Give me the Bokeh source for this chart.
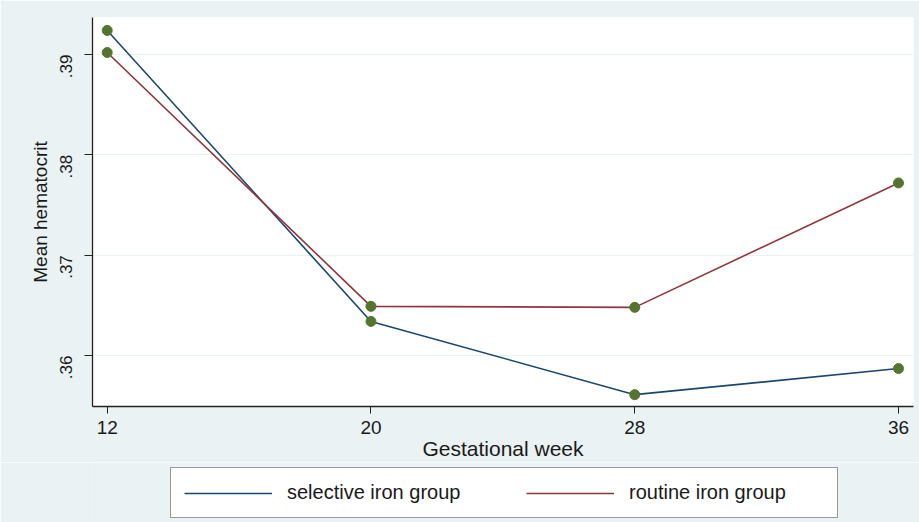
import math
from bokeh.plotting import figure
from bokeh.models import Legend, LegendItem, FixedTicker, Range1d
from bokeh.layouts import column
from bokeh.embed import file_html
from bokeh.resources import INLINE

# ---- data ----
weeks = [12, 20, 28, 36]
selective = [0.3924, 0.3634, 0.3561, 0.3587]
routine = [0.3902, 0.3649, 0.3648, 0.3772]
x_ticks = [12, 20, 28, 36]
y_ticks = [0.36, 0.37, 0.38, 0.39]
y_tick_labels = [".36", ".37", ".38", ".39"]
series_names = ["selective iron group", "routine iron group"]
series_colors = ["#1a476f", "#90353b"]
x_title = "Gestational week"
y_title = "Mean hematocrit"

FONT = "Liberation Sans"
TXT = "#1a1a1a"
BG = "#eaf2f3"

p = figure(frame_width=821, frame_height=389,
           output_backend="svg", toolbar_location=None,
           x_range=Range1d(11.554, 36.455), y_range=Range1d(0.35492, 0.39369),
           min_border_left=92, min_border_right=6, min_border_top=17,
           min_border_bottom=56,
           background_fill_color="white", border_fill_color=BG,
           outline_line_color=None)

# grids
p.xgrid.visible = False
p.ygrid.ticker = FixedTicker(ticks=y_ticks)
p.ygrid.grid_line_color = BG
p.ygrid.grid_line_width = 1.2

# x axis
xa = p.xaxis[0]
xa.ticker = FixedTicker(ticks=x_ticks)
xa.axis_label = x_title
xa.axis_label_text_font = FONT
xa.axis_label_text_font_style = "normal"
xa.axis_label_text_font_size = "21px"
xa.axis_label_text_color = TXT
xa.axis_label_standoff = 0
xa.major_label_text_font = FONT
xa.major_label_text_font_size = "19px"
xa.major_label_text_color = TXT
xa.major_label_standoff = 7
xa.major_tick_out = 7
xa.major_tick_in = 0
xa.minor_tick_out = 0
xa.minor_tick_in = 0
xa.axis_line_color = "#222222"
xa.major_tick_line_color = "#222222"
xa.axis_line_width = 1.3

# y axis
ya = p.yaxis[0]
ya.ticker = FixedTicker(ticks=y_ticks)
ya.major_label_overrides = dict(zip(y_ticks, y_tick_labels))
ya.major_label_orientation = math.pi / 2
ya.axis_label = y_title
ya.axis_label_text_font = FONT
ya.axis_label_text_font_style = "normal"
ya.axis_label_text_font_size = "19px"
ya.axis_label_text_color = TXT
ya.axis_label_standoff = 1
ya.major_label_text_font = FONT
ya.major_label_text_font_size = "17px"
ya.major_label_text_color = TXT
ya.major_label_standoff = 18
ya.major_tick_out = 8
ya.major_tick_in = 0
ya.minor_tick_out = 0
ya.minor_tick_in = 0
ya.axis_line_color = "#222222"
ya.major_tick_line_color = "#222222"
ya.axis_line_width = 1.3

# series
p.line(weeks, selective, line_color=series_colors[0], line_width=1.6)
p.line(weeks, routine, line_color=series_colors[1], line_width=1.6)
p.scatter(weeks, selective, size=10, fill_color="#55752f", line_color="#55752f")
p.scatter(weeks, routine, size=10, fill_color="#55752f", line_color="#55752f")

# ---- legend strip below the chart (frame aligned with main chart) ----
p2 = figure(width=919, height=60, output_backend="svg", toolbar_location=None,
            x_axis_location=None, y_axis_location=None,
            x_range=Range1d(0, 1), y_range=Range1d(0, 1),
            min_border=0, min_border_left=0, min_border_right=0,
            min_border_top=0, min_border_bottom=0,
            background_fill_color=BG, border_fill_color=BG,
            outline_line_color=None)
p2.grid.visible = False
# key renderers use the series data; they lie outside this strip's range
key_sel = p2.line(weeks, selective, line_color=series_colors[0], line_width=1.6)
key_rou = p2.line(weeks, routine, line_color=series_colors[1], line_width=1.6)

legend = Legend(
    items=[LegendItem(label=series_names[0], renderers=[key_sel]),
           LegendItem(label=series_names[1], renderers=[key_rou])],
    orientation="horizontal", location=(78, 4),
    label_text_font=FONT, label_text_font_size="20px", label_text_color=TXT,
    glyph_width=88, glyph_height=20, label_width=195,
    label_standoff=15, spacing=44, padding=13, margin=0,
    border_line_color="#333333", border_line_width=1.5,
    background_fill_color="white", background_fill_alpha=1.0,
)
p2.add_layout(legend, "center")

page = column(p, p2)
open("out.html", "w").write(file_html(page, INLINE))
